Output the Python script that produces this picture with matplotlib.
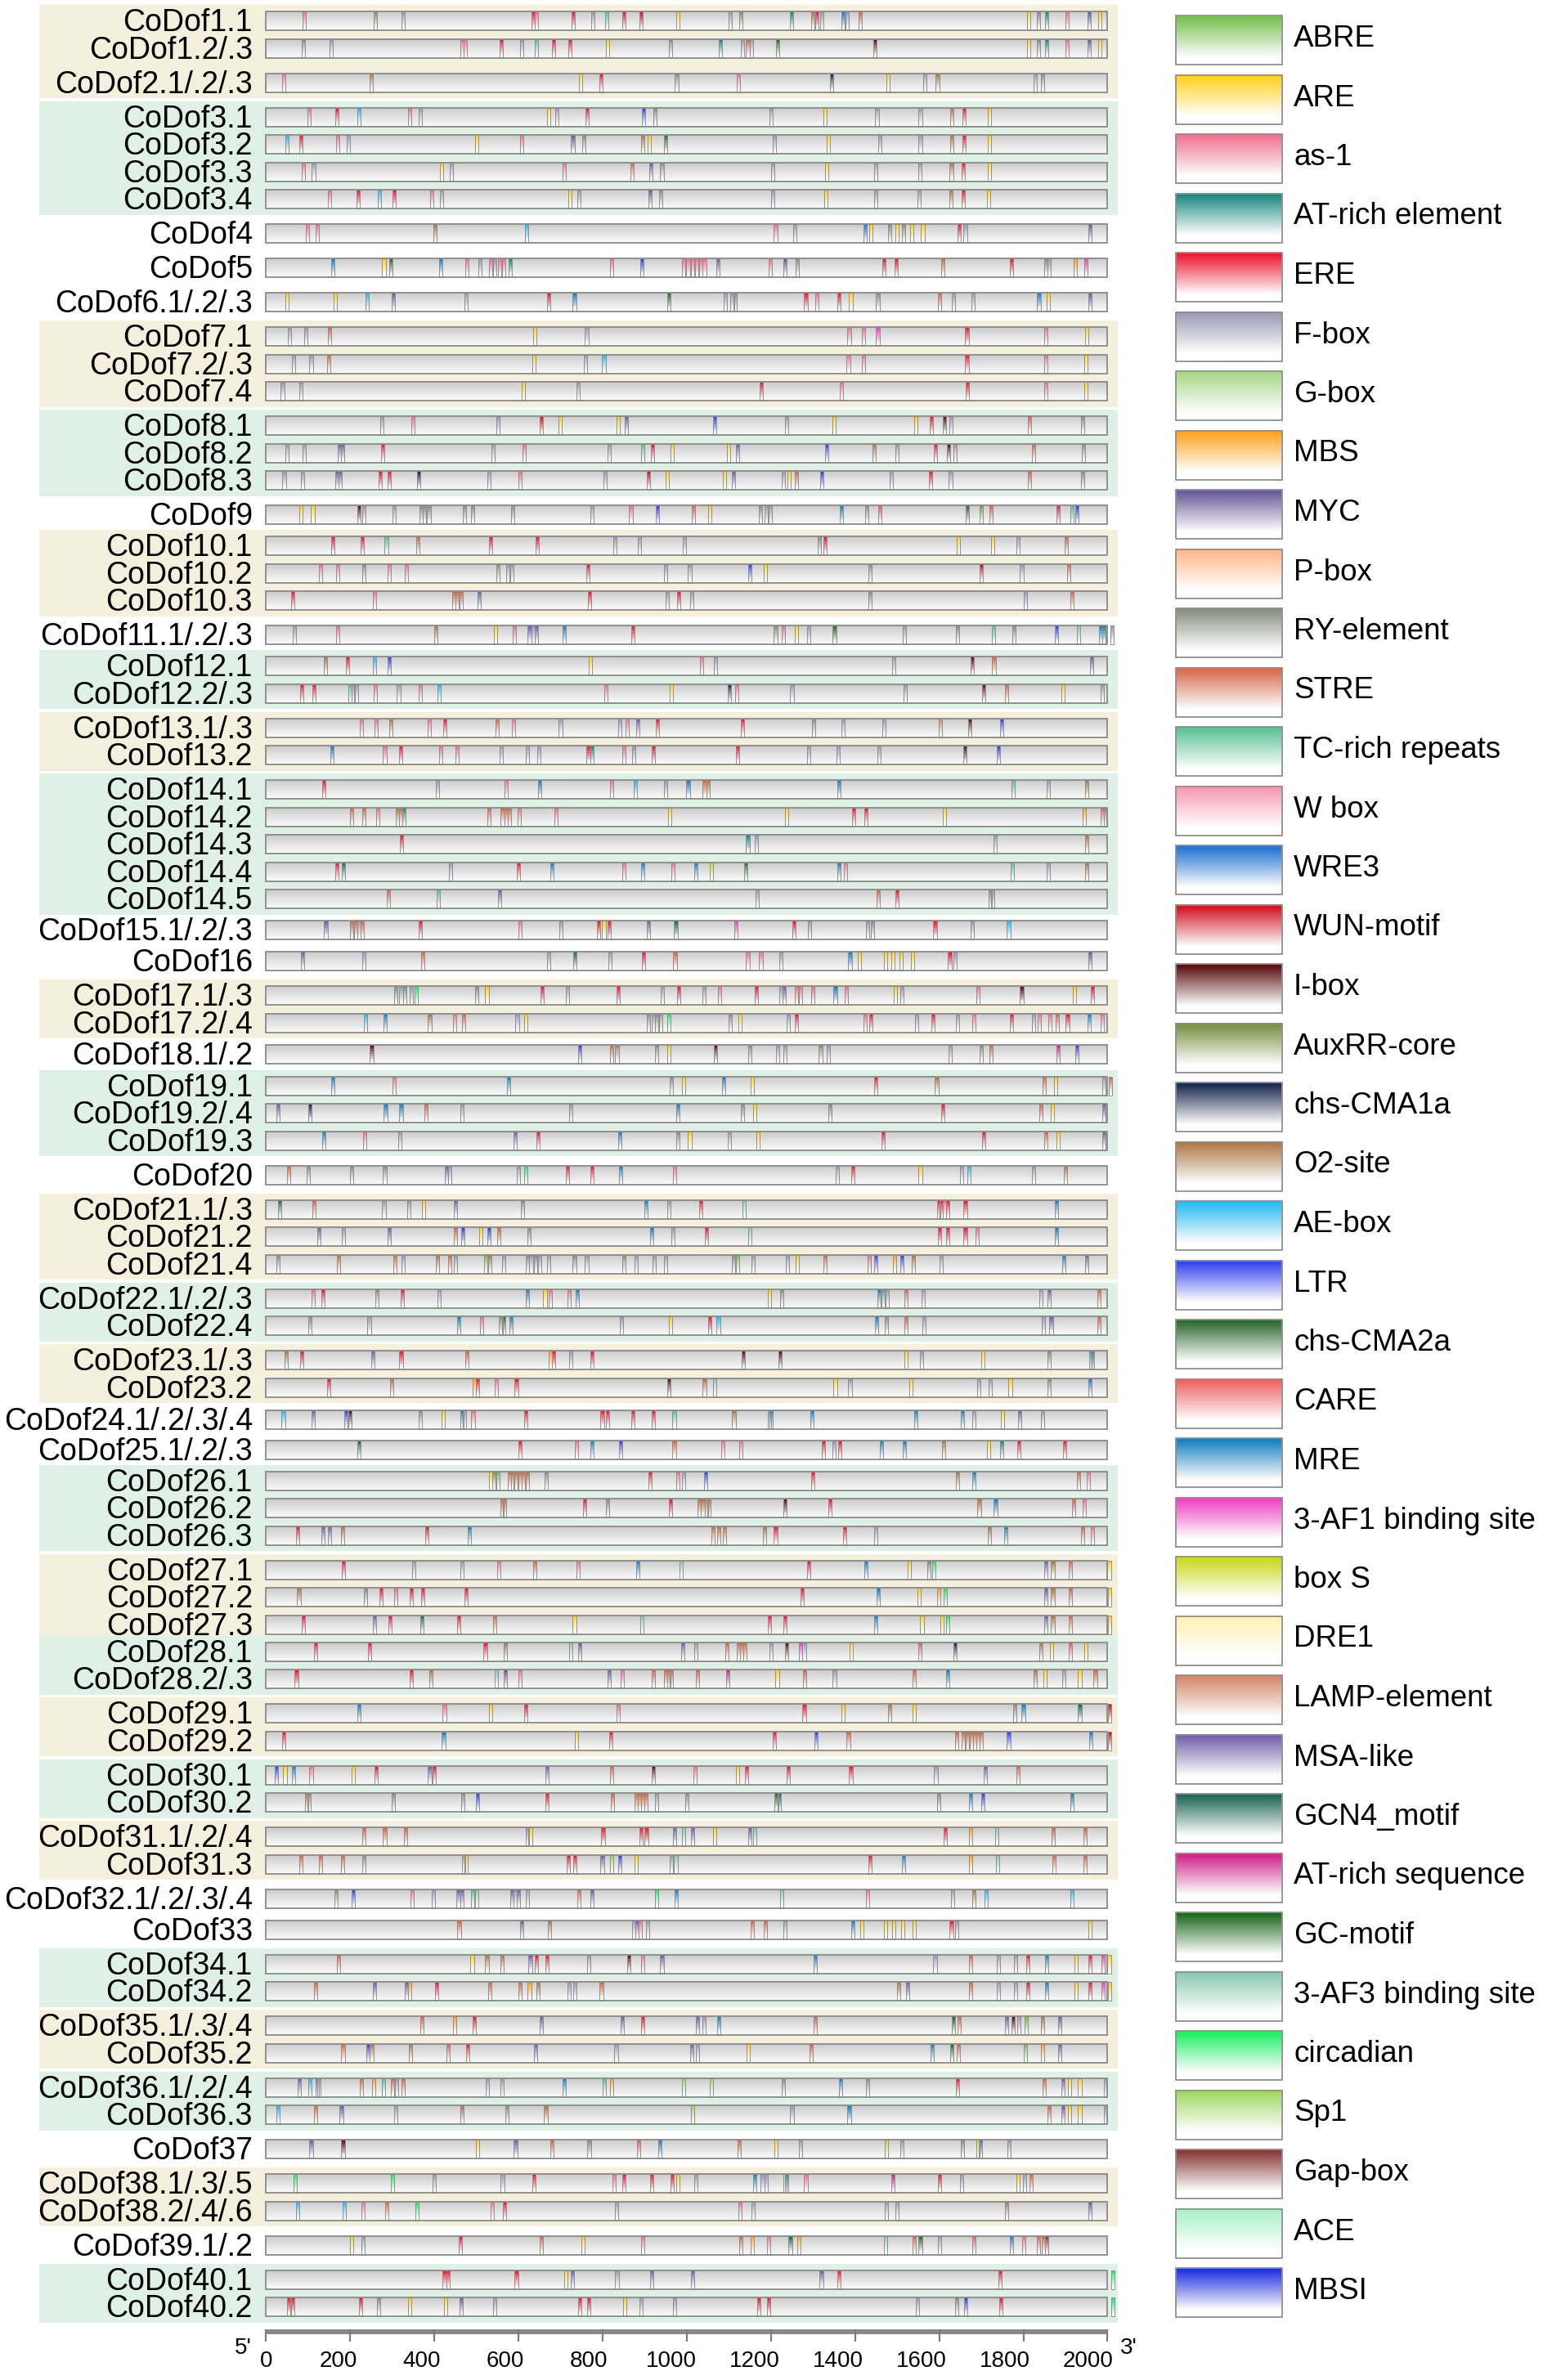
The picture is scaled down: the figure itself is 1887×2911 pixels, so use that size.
import numpy as np
import matplotlib
matplotlib.use("Agg")
import matplotlib.pyplot as plt
from matplotlib.collections import PolyCollection
from matplotlib.patches import Rectangle
from matplotlib.colors import to_rgb

plt.rcParams['font.family'] = ['Liberation Sans', 'DejaVu Sans']

# legend of cis-acting elements
element_names = ["ABRE", "ARE", "as-1", "AT-rich element", "ERE", "F-box", "G-box", "MBS", "MYC",
                 "P-box", "RY-element", "STRE", "TC-rich repeats", "W box", "WRE3", "WUN-motif",
                 "I-box", "AuxRR-core", "chs-CMA1a", "O2-site", "AE-box", "LTR", "chs-CMA2a", "CARE",
                 "MRE", "3-AF1 binding site", "box S", "DRE1", "LAMP-element", "MSA-like",
                 "GCN4_motif", "AT-rich sequence", "GC-motif", "3-AF3 binding site", "circadian",
                 "Sp1", "Gap-box", "ACE", "MBSI"]
element_codes = ["AB", "AR", "AS", "AT", "ER", "FB", "GB", "MB", "MY", "PB", "RY", "ST", "TC", "WB",
                 "WR", "WU", "IB", "AX", "C1", "O2", "AE", "LT", "C2", "CA", "MR", "A1", "BS", "DR",
                 "LA", "MS", "GC", "AQ", "GM", "A3", "CI", "SP", "GP", "AC", "MI"]
element_colors = ["#79c152", "#ffd21f", "#f07592", "#1b8a80", "#f01a33", "#9d9bb6", "#a9d98a",
                  "#ffa41f", "#6b5b9c", "#ffb98a", "#8b9182", "#d9694a", "#5ec395", "#f79ab2",
                  "#2374d4", "#d2121f", "#5e1212", "#7a9142", "#1c2a52", "#b07a4a", "#2bbcf2",
                  "#3344f0", "#2f6b30", "#f06262", "#1a82c2", "#f044c2", "#cad91f", "#fff2b5",
                  "#d38b6b", "#7462aa", "#22695a", "#d2238b", "#1f6a20", "#8acbb2", "#22f066",
                  "#a2d962", "#8a3a3a", "#aaf2ca", "#2233e2"]

gene_labels = ["CoDof1.1", "CoDof1.2/.3", "CoDof2.1/.2/.3", "CoDof3.1", "CoDof3.2", "CoDof3.3",
               "CoDof3.4", "CoDof4", "CoDof5", "CoDof6.1/.2/.3", "CoDof7.1", "CoDof7.2/.3",
               "CoDof7.4", "CoDof8.1", "CoDof8.2", "CoDof8.3", "CoDof9", "CoDof10.1", "CoDof10.2",
               "CoDof10.3", "CoDof11.1/.2/.3", "CoDof12.1", "CoDof12.2/.3", "CoDof13.1/.3",
               "CoDof13.2", "CoDof14.1", "CoDof14.2", "CoDof14.3", "CoDof14.4", "CoDof14.5",
               "CoDof15.1/.2/.3", "CoDof16", "CoDof17.1/.3", "CoDof17.2/.4", "CoDof18.1/.2",
               "CoDof19.1", "CoDof19.2/.4", "CoDof19.3", "CoDof20", "CoDof21.1/.3", "CoDof21.2",
               "CoDof21.4", "CoDof22.1/.2/.3", "CoDof22.4", "CoDof23.1/.3", "CoDof23.2",
               "CoDof24.1/.2/.3/.4", "CoDof25.1/.2/.3", "CoDof26.1", "CoDof26.2", "CoDof26.3",
               "CoDof27.1", "CoDof27.2", "CoDof27.3", "CoDof28.1", "CoDof28.2/.3", "CoDof29.1",
               "CoDof29.2", "CoDof30.1", "CoDof30.2", "CoDof31.1/.2/.4", "CoDof31.3",
               "CoDof32.1/.2/.3/.4", "CoDof33", "CoDof34.1", "CoDof34.2", "CoDof35.1/.3/.4",
               "CoDof35.2", "CoDof36.1/.2/.4", "CoDof36.3", "CoDof37", "CoDof38.1/.3/.5",
               "CoDof38.2/.4/.6", "CoDof39.1/.2", "CoDof40.1", "CoDof40.2"]

beige_genes = [1, 2, 7, 10, 13, 17, 21, 23, 27, 29, 31, 35, 38]
green_genes = [3, 8, 12, 14, 19, 22, 26, 28, 30, 34, 36, 40]

# element positions (bp from 5' end) and element type for each promoter row
motif_pos = [
    [91, 259, 326, 634, 643, 730, 776, 809, 851, 892, 978, 1103, 1129, 1249, 1299, 1309, 1321, 1371, 1382, 1412, 1813, 1836, 1855, 1904, 1956, 1981],
    [88, 155, 466, 474, 559, 608, 642, 684, 722, 812, 961, 1080, 1132, 1145, 1153, 1216, 1448, 1813, 1836, 1855, 1904, 1956, 1981],
    [42, 250, 747, 796, 976, 1122, 1345, 1478, 1565, 1596, 1829, 1845],
    [103, 168, 220, 342, 367, 671, 692, 763, 897, 925, 1201, 1329, 1452, 1555, 1630, 1659, 1719],
    [49, 82, 171, 195, 500, 607, 729, 755, 896, 911, 950, 1208, 1337, 1459, 1555, 1630, 1659, 1720],
    [88, 113, 417, 440, 708, 870, 915, 941, 1205, 1332, 1450, 1554, 1629, 1658, 1719],
    [150, 218, 270, 304, 393, 417, 722, 744, 912, 938, 1205, 1330, 1449, 1553, 1628, 1657, 1717],
    [99, 121, 401, 620, 1211, 1257, 1424, 1437, 1483, 1500, 1516, 1534, 1561, 1648, 1662, 1959],
    [159, 280, 297, 416, 478, 509, 533, 543, 555, 565, 580, 821, 894, 992, 1003, 1013, 1024, 1034, 1042, 1074, 1198, 1233, 1263, 1469, 1498, 1608, 1771, 1854, 1862, 1924, 1948],
    [50, 164, 240, 303, 475, 672, 733, 957, 1092, 1108, 1115, 1283, 1309, 1362, 1390, 1454, 1601, 1633, 1680, 1837, 1859, 1959],
    [55, 95, 151, 638, 762, 1386, 1420, 1454, 1666, 1854, 1950],
    [66, 107, 149, 636, 759, 803, 1384, 1420, 1666, 1854, 1949],
    [39, 82, 612, 742, 1177, 1367, 1667, 1853, 1949],
    [275, 349, 551, 654, 699, 837, 857, 1067, 1237, 1350, 1544, 1582, 1613, 1628, 1815, 1941],
    [50, 91, 174, 182, 278, 540, 613, 816, 896, 919, 965, 1100, 1120, 1333, 1445, 1499, 1591, 1623, 1638, 1824, 1942],
    [43, 86, 168, 176, 271, 293, 362, 529, 604, 805, 908, 954, 1090, 1111, 1229, 1244, 1261, 1321, 1486, 1579, 1627, 1815, 1941],
    [82, 111, 220, 233, 305, 368, 376, 387, 471, 491, 586, 774, 867, 930, 1015, 1054, 1175, 1188, 1198, 1367, 1427, 1459, 1667, 1700, 1724, 1882, 1915, 1927],
    [158, 228, 286, 361, 533, 645, 830, 888, 994, 1315, 1328, 1645, 1727, 1788, 1902],
    [130, 171, 233, 293, 334, 551, 575, 584, 765, 949, 1007, 1150, 1187, 1436, 1700, 1796, 1908],
    [63, 258, 446, 454, 463, 507, 769, 953, 980, 1011, 1436, 1805, 1916],
    [68, 171, 404, 545, 590, 626, 634, 642, 709, 872, 1211, 1230, 1261, 1290, 1351, 1517, 1644, 1729, 1777, 1879, 1932, 1983, 1991, 2011],
    [141, 193, 257, 292, 770, 1036, 1069, 1492, 1678, 1730, 1962],
    [84, 114, 199, 208, 214, 259, 315, 366, 412, 808, 963, 1101, 1119, 1250, 1520, 1705, 1761, 1894, 1987],
    [226, 261, 296, 388, 425, 550, 588, 700, 840, 858, 884, 930, 1133, 1301, 1371, 1469, 1603, 1673, 1749],
    [157, 282, 320, 415, 454, 559, 621, 649, 766, 775, 850, 874, 920, 1121, 1290, 1359, 1457, 1661, 1740],
    [137, 408, 570, 650, 821, 878, 950, 1003, 1042, 1050, 1362, 1775, 1859, 1950],
    [204, 233, 265, 312, 320, 328, 529, 562, 570, 578, 601, 690, 959, 1237, 1397, 1426, 1612, 1944, 1987, 1995],
    [322, 1145, 1165, 1733, 1950],
    [168, 184, 438, 600, 680, 851, 895, 967, 1021, 1059, 1140, 1362, 1378, 1774, 1859, 1950],
    [290, 409, 555, 1167, 1455, 1500, 1721, 1727],
    [142, 203, 213, 221, 229, 367, 603, 701, 791, 803, 816, 908, 974, 1117, 1255, 1292, 1429, 1442, 1590, 1678, 1765],
    [86, 233, 372, 672, 734, 818, 897, 972, 1145, 1176, 1224, 1388, 1411, 1472, 1490, 1509, 1537, 1625, 1638, 1959],
    [309, 321, 330, 345, 357, 501, 525, 657, 716, 837, 942, 980, 1041, 1078, 1166, 1224, 1232, 1261, 1271, 1300, 1353, 1380, 1495, 1512, 1692, 1796, 1921, 1965],
    [237, 283, 389, 449, 470, 597, 618, 909, 920, 929, 938, 958, 1103, 1126, 1242, 1261, 1424, 1438, 1546, 1586, 1644, 1682, 1771, 1825, 1838, 1863, 1881, 1905, 1957, 1987],
    [251, 745, 821, 834, 929, 958, 1069, 1149, 1216, 1234, 1318, 1337, 1626, 1700, 1724, 1882, 1927],
    [159, 304, 576, 963, 992, 1088, 1155, 1450, 1594, 1849, 1876, 1991, 2007],
    [28, 104, 284, 321, 380, 465, 725, 978, 1133, 1161, 1341, 1609, 1841, 1869, 1991],
    [138, 234, 318, 592, 646, 840, 978, 1007, 1101, 1170, 1466, 1705, 1854, 1882, 1991],
    [54, 100, 204, 282, 429, 437, 599, 617, 717, 775, 842, 971, 1357, 1395, 1555, 1654, 1670, 1824, 1900],
    [32, 114, 280, 340, 374, 450, 609, 903, 957, 1033, 1136, 1598, 1605, 1613, 1621, 1662, 1878],
    [125, 184, 293, 450, 468, 511, 529, 554, 625, 916, 967, 1046, 1150, 1600, 1621, 1662, 1691, 1878],
    [29, 172, 307, 326, 408, 437, 450, 522, 532, 565, 621, 630, 640, 650, 672, 733, 762, 851, 880, 922, 950, 1111, 1121, 1158, 1240, 1262, 1329, 1434, 1450, 1494, 1512, 1538, 1605, 1896, 1950],
    [112, 136, 264, 324, 411, 622, 663, 675, 721, 740, 1196, 1226, 1457, 1467, 1476, 1521, 1562, 1842, 1862, 1980],
    [105, 245, 458, 512, 558, 565, 582, 844, 962, 1055, 1075, 1451, 1474, 1521, 1563, 1848, 1866, 1980],
    [47, 84, 254, 321, 478, 675, 683, 725, 775, 1134, 1221, 1521, 1558, 1703, 1861, 1961, 1965],
    [149, 299, 495, 503, 547, 595, 957, 1042, 1067, 1353, 1388, 1533, 1694, 1721, 1769, 1861, 1959],
    [41, 112, 189, 200, 366, 421, 466, 471, 492, 618, 799, 811, 872, 920, 970, 1112, 1196, 1201, 1297, 1545, 1655, 1682, 1750, 1791, 1846],
    [220, 603, 737, 775, 842, 970, 1086, 1129, 1324, 1350, 1363, 1463, 1517, 1611, 1717, 1749, 1790, 1898],
    [534, 542, 551, 578, 586, 593, 604, 612, 621, 666, 912, 979, 992, 1045, 1299, 1644, 1683, 1932, 1954],
    [561, 566, 758, 812, 961, 1029, 1038, 1046, 1053, 1233, 1341, 1695, 1734, 1919, 1944],
    [75, 136, 150, 182, 382, 483, 1063, 1076, 1090, 1184, 1211, 1375, 1450, 1720, 1759, 1941, 1965],
    [184, 351, 466, 554, 638, 741, 883, 987, 1290, 1425, 1529, 1575, 1588, 1854, 1870, 1912, 2004],
    [78, 236, 274, 309, 345, 372, 476, 1275, 1455, 1553, 1599, 1615, 1854, 1870, 1912, 2005],
    [88, 257, 295, 370, 458, 543, 733, 893, 1196, 1233, 1449, 1559, 1607, 1621, 1854, 1870, 1912, 2005],
    [118, 246, 521, 568, 724, 745, 991, 1022, 1095, 1122, 1130, 1138, 1201, 1238, 1271, 1279, 1391, 1554, 1638, 1841, 1867, 1911, 1949],
    [72, 345, 392, 547, 568, 603, 815, 846, 920, 949, 957, 963, 1026, 1097, 1215, 1280, 1351, 1541, 1621, 1828, 1851, 1896, 1934, 1971],
    [221, 424, 534, 618, 837, 1279, 1371, 1482, 1541, 1779, 1800, 1934, 2005],
    [42, 422, 737, 820, 1208, 1308, 1384, 1641, 1658, 1667, 1676, 1684, 1692, 1700, 1765, 1961, 2005],
    [25, 45, 66, 107, 208, 262, 389, 399, 667, 821, 921, 1020, 1121, 1142, 1241, 1390, 1592, 1709, 1788],
    [97, 103, 303, 468, 503, 668, 824, 879, 887, 895, 903, 928, 1001, 1213, 1219, 1599, 1675, 1704, 1915],
    [233, 282, 332, 621, 628, 801, 891, 904, 971, 992, 1013, 1066, 1149, 1161, 1615, 1674, 1737, 1871, 1946],
    [82, 130, 182, 232, 470, 476, 718, 734, 799, 821, 841, 879, 963, 974, 1436, 1515, 1675, 1738, 1873, 1946],
    [167, 208, 347, 397, 457, 466, 491, 500, 584, 592, 600, 621, 744, 775, 929, 975, 1226, 1429, 1632, 1682, 1711, 1916],
    [459, 608, 674, 874, 882, 890, 907, 1155, 1187, 1234, 1394, 1416, 1473, 1492, 1513, 1541, 1629, 1642, 1959],
    [172, 490, 525, 561, 628, 642, 668, 767, 863, 895, 941, 1305, 1590, 1675, 1740, 1782, 1811, 1855, 1925, 1959, 1990, 2004],
    [118, 258, 334, 342, 405, 532, 603, 626, 647, 721, 734, 797, 1503, 1525, 1675, 1740, 1782, 1811, 1855, 1925, 1958, 1990, 2005],
    [370, 449, 495, 655, 846, 895, 1025, 1041, 1076, 1305, 1633, 1647, 1761, 1776, 1790, 1807, 1846, 1887],
    [183, 243, 251, 343, 433, 480, 640, 832, 1011, 1025, 1146, 1295, 1583, 1630, 1645, 1805, 1846, 1887],
    [79, 105, 121, 126, 226, 255, 279, 301, 311, 325, 526, 561, 708, 804, 821, 992, 1059, 1229, 1366, 1429, 1644, 1850, 1895, 1909, 1934, 1995],
    [28, 118, 179, 308, 466, 572, 665, 1013, 1250, 1386, 1861, 1895, 1909, 1934, 1995],
    [107, 183, 503, 593, 679, 768, 886, 936, 1124, 1212, 1270, 1475, 1511, 1655, 1692, 1698, 1766],
    [70, 301, 400, 562, 637, 828, 850, 917, 965, 978, 1022, 1161, 1180, 1188, 1233, 1238, 1283, 1490, 1600, 1654, 1788, 1803, 1819],
    [75, 186, 230, 287, 358, 537, 567, 833, 1126, 1158, 1474, 1500, 1761, 1959],
    [203, 230, 462, 655, 754, 896, 1129, 1155, 1194, 1246, 1266, 1472, 1540, 1555, 1601, 1682, 1772, 1801, 1836, 1847, 1855],
    [424, 433, 595, 712, 728, 834, 916, 1013, 1320, 1361, 1745, 2013],
    [54, 63, 224, 267, 342, 426, 463, 543, 745, 767, 853, 891, 971, 1171, 1195, 1549, 1642, 1663, 1747, 2013],
]
motif_kind = [
    "AS RY FB ER AS ER FB TC ER WU AR FB RY AT O2 ER FB WR FB ST AR RY AT AS MY AR",
    "RY FB AS AS ER FB TC ER ER AR RY AT FB ST FB C2 IB AR RY AT AS MY AR",
    "AS O2 AR ER RY AS C1 AR FB O2 FB RY",
    "AS ER AE AS FB AR FB ER LT RY FB AR FB FB O2 ER AR",
    "AE ER AS FB AR AS MY RY O2 AR C2 FB AR FB FB O2 ER AR",
    "AS FB AR FB AS ST MY RY FB AR FB FB O2 ER AR",
    "AS ER AE ER AS FB AR FB MY RY FB AR FB FB O2 ER AR",
    "AS AS O2 AE AS FB WR AR RY AR RY AR AR ER FB MY",
    "MR AR C2 MR AS FB AS FB AS AS AT AS LT AS AS AS AS AS AS MS AS MY RY ER ER ST ER RY FB MB A1",
    "AR AR AE MY FB ER MR C2 FB FB RY ER AS ER AR RY ST FB FB MR AR MY",
    "FB FB ST AR FB AS AS A1 ER AS AR",
    "FB FB ST AR FB AE AS AS ER AS AR",
    "FB FB AR FB ER AS ER AS AR",
    "FB AS FB WU AR AR MS LT FB AR AR ER IB FB ST RY",
    "FB FB MS MS ER FB AS FB TC ER AR AR MS LT O2 FB ER IB FB ST RY",
    "FB FB MS MS ER ER C1 FB AS FB WU AR AR MS FB AR ST LT FB ER FB ST RY",
    "AR AR IB FB FB RY RY RY RY RY RY FB AS LT ST AR RY FB FB MR RY ST C2 RY ST AQ TC LT",
    "ER ER TC O2 ER ER FB FB FB RY ER AR AR FB ST",
    "AS AS RY AS AS RY FB FB ER FB FB LT AR RY WU FB ST",
    "ER AS ST O2 ST MS ER FB ER FB RY FB ST",
    "FB AS O2 AR AS MS FB MS MR ER RY AS AR FB C2 FB RY TC RY LT A3 WR AT FB",
    "O2 ER AE LT AR AS FB FB IB ST MS",
    "ER ER TC FB FB AS FB AS AE AS AR C1 AS FB FB IB ST AR FB",
    "AS AS O2 AS ER ST AS FB FB AS MS ER ER RY FB FB LA IB LT",
    "MR AS ER AS AS FB FB FB ER AT AS FB ER ER FB FB FB IB LT",
    "ER FB AS MR AS AE FB MR ST O2 MR TC FB O2",
    "ST ST AS O2 ST AT ST ST O2 ST AS AS AR AR ER ER AR MB ST RY",
    "ER AT FB FB O2",
    "ER GC FB ER MR AS MR AS MR BS C2 MR AS TC FB O2",
    "ST TC MS FB ST ER RY FB",
    "MS O2 ST FB ST ER AS FB ER AR ER MS GC A1 ER FB FB RY ER FB AE",
    "MS FB ST FB GC FB ER ST AS AS FB MR AR AR AR AR AR ER FB MY",
    "RY FB RY FB CI RY AR ER FB ER FB ER FB AS ER FB MS AS AS AS MR AS AR FB AS IB AR ER",
    "AE MR O2 AS ST FB AR RY FB RY FB CI RY AR FB ER AS ER FB ER FB AS ER FB AS AS ST ER MR AS",
    "IB LT ST RY RY AR IB RY FB FB RY FB FB RY ST AQ LT",
    "MR AS MR RY AR MR AR ER O2 ST AR FB ST",
    "MS C1 MR MR ST FB FB MR RY AR RY ER ST AR MS",
    "MR AS FB MS ER MR RY AR FB AR ER ER ST AR MS",
    "ST RY RY RY MS FB FB CI ER ER MR AS FB ER AR FB AE FB O2",
    "GC ST FB FB AR MS RY MR FB ER A3 ER ER AS ER ER MR",
    "MS FB MS ST LT AR LT ST RY MR FB ER A3 ER ER ER AS MR",
    "RY ST ST FB O2 ST FB AB O2 FB RY FB RY FB FB RY FB RY FB FB FB RY AB FB FB AR ST AS LT MB LT O2 FB MR MS",
    "AS ER RY ER FB MR AR AS AS MR AR RY MR RY FB ST FB FB MS ST",
    "RY FB MR AS RY C2 MR FB AR ER AE MR RY ST FB FB MS ST",
    "O2 ER MS ER ST MB ER FB ER IB IB AR FB AR RY RY WR",
    "ER ST MB ER AS ER IB O2 A3 AR FB AR FB FB AR RY WR",
    "AE MS LT IB RY AR MR FB AS ER ER ER ER ER TC O2 FB MR MR MR MR FB AR MS FB",
    "C2 ER AS MR LT ST AS AS ER FB ER MR MR O2 AR AT ER ER",
    "AR RY AB ST ST O2 ST ST O2 RY ER AS FB LT ER O2 MR ST AS",
    "ST O2 ER RY ER ST O2 RY ST IB ER O2 MR ST AS",
    "ER MS MS O2 ER MR ST O2 ST O2 ER ER FB O2 MR ST AS",
    "ER FB FB AS ST AS MR A3 ER MR AR RY CI MS O2 ST AR",
    "O2 RY ER AS ER ER ER ER MR AR MB CI MS O2 ST AR",
    "ER MS ER GC ER ST AR A3 ER ER MR AR AR CI MS O2 ST AR",
    "ER ER ER O2 A3 MY MS FB ST ST O2 ST FB IB A1 FB AR ST C1 O2 AR ST AR",
    "ER ER O2 A3 MY AS MS AS ST ST O2 ST ST AQ AR ST FB ST MR O2 AR FB AR ST",
    "MR AS AR ER AS ER AR O2 AR RY MR GC WU",
    "ER MR AR ER ER LT ST ST ST O2 ST O2 ST ST LT MR WU",
    "LT AR MR AS AR ER MS ER MS ST IB AS AR ER ER ER FB MS ST",
    "ST RY RY RY LT ER ST ST O2 ST ST FB RY C2 GC RY MR LT MR",
    "ST ST ST FB AR ER ER ER MS A3 MS AR MS A3 ER MB A3 ST ST",
    "ST ST ST RY FB AR ER ER MS SP LT AR FB A3 ER MR MB A3 ST ST",
    "RY LT AS FB MS MS TC A3 MS FB MS FB ST MS CI MR A3 AS FB O2 AE AE",
    "ST MS O2 FB MS AS FB ST ST FB MR AR AR AR AR AR ER FB AR",
    "ST AR O2 O2 MS ER ER FB IB AS MS MR FB ST FB FB ER MR AR ER A1 AR",
    "ST MS MS MB ER ST ST MB O2 FB FB ST O2 MS ST FB FB ER MR AR ER A1 AR",
    "ST MB ER MS MS ER MS FB MR ST GM ST MS IB FB AB O2 MS",
    "ST LT O2 O2 ST ER MS FB MS FB AR ST MR GM ST AB MB MS",
    "MS AE MS FB ST MB TC ST FB ST FB FB MR TC MB SP SP RY MR RY ER ST MS AR AR FB",
    "AE ST MS FB O2 RY O2 SP FB MR ST MS AR AR FB",
    "MS IB AR MS ST RY ST MR ST AR FB BS FB RY AR MR FB",
    "CI CI FB FB ER AS ER ER ER AR FB MR FB FB AR MR AS AQ ER FB AR FB ST",
    "AE AE AS ST CI AS ER FB AS FB FB FB O2 MY",
    "AR FB ER ST AR AS ST MB AS GC MB A3 ST C2 FB ST MR AS ST ST GP",
    "ER ER ER AR MS FB MS MS MS ER ER CI",
    "ER ER ER RY AR AR MS FB ER ER AR FB FB ER ER FB RY LT ER CI",
]

# ---- layout (figure pixels) ----
W_PX, H_PX = 1887, 2911
X0_PX = 325.4              # pixel of 0 bp
PX_PER_BP = 1029.0 / 2000  # horizontal scale
BAR_H = 23
SEQ_LEN = 2000
MOTIF_W = 8
GAP_SAME = 33.5
GAP_GENE = 42
GAP_NARROW = {10: 38, 12: 38, 15: 38, 16: 38, 18: 38, 19: 39, 24: 39, 25: 37, 26: 38, 28: 33, 33: 38}
BEIGE, GREEN = '#f4f0dd', '#dff1e6'


def gene_number(label):
    return int(label[5:].split('.')[0])


def fade(col, n=64, start=0.04, end=0.86):
    t = np.linspace(0, 1, n)
    w = np.clip((t - start) / (end - start), 0, 1)
    rgb = np.array(to_rgb(col))
    return rgb[None, :] * (1 - w[:, None]) + w[:, None]


genes = [gene_number(l) for l in gene_labels]
row_y = [25.7]
for prev, cur in zip(genes[:-1], genes[1:]):
    step = GAP_SAME if prev == cur else GAP_NARROW.get(cur, GAP_GENE)
    row_y.append(row_y[-1] + step)

fig = plt.figure(figsize=(W_PX / 100, H_PX / 100), dpi=100)
ax = fig.add_axes([0, 0, 1, 1])
ax.axis('off')

# shaded groups (neighbouring genes with the same shade share one box)
shade = {g: BEIGE for g in beige_genes}
shade.update({g: GREEN for g in green_genes})
runs = []
for y, g in zip(row_y, genes):
    c = shade.get(g)
    if c is None:
        continue
    if runs and runs[-1][0] == c and runs[-1][3] in (g, g - 1):
        runs[-1][2] = y
        runs[-1][3] = g
    else:
        runs.append([c, y, y, g])
for c, y_first, y_last, _ in runs:
    ax.add_patch(Rectangle((-539, y_first - 19.5), 2024 + 539, y_last - y_first + 38.5,
                           fc=c, ec='none', zorder=0))

# promoter bars
bar_grad = np.repeat(np.linspace(0.80, 0.985, 32)[:, None], 3, axis=1)[:, None, :]
for y, lab in zip(row_y, gene_labels):
    ax.imshow(bar_grad, extent=[0, SEQ_LEN, y + BAR_H / 2, y - BAR_H / 2], aspect='auto',
              interpolation='bilinear', zorder=2)
    ax.add_patch(Rectangle((0, y - BAR_H / 2), SEQ_LEN, BAR_H, fill=False, ec='#8a8a8a',
                           lw=1.3, zorder=5))
    ax.text(-32, y + 12.7, lab, fontsize=27, ha='right', va='baseline', zorder=6)

# cis-elements
n_sl = 8
slice_cols = {c: fade(col, n_sl, 0.0, 0.95) for c, col in zip(element_codes, element_colors)}
polys, fcols, outlines = [], [], []
for y, pos, kinds in zip(row_y, motif_pos, motif_kind):
    top = y - BAR_H / 2
    for x, k in zip(pos, kinds.split()):
        x0, x1 = x - MOTIF_W / 2, x + MOTIF_W / 2
        for s in range(n_sl):
            ya = top + BAR_H * s / n_sl
            yb = top + BAR_H * (s + 1) / n_sl
            polys.append([(x0, ya), (x1, ya), (x1, yb), (x0, yb)])
            fcols.append(slice_cols[k][s])
        outlines.append([(x0, top), (x1, top), (x1, top + BAR_H), (x0, top + BAR_H)])
ax.add_collection(PolyCollection(polys, facecolors=fcols, edgecolors='none',
                                 antialiaseds=False, zorder=3))
ax.add_collection(PolyCollection(outlines, facecolors='none', edgecolors='#8f8f8f',
                                 linewidths=0.7, zorder=4))

# scale
ticks = np.arange(0, SEQ_LEN + 1, 200)
ax.plot([0, SEQ_LEN], [2852, 2852], color='#8a8a8a', lw=4.3, solid_capstyle='butt', zorder=3)
ax.vlines(ticks, 2849, 2864, color='#7c7c7c', lw=1.6, zorder=3)
for t in ticks:
    lx = t if t == 0 else t * 0.9895 - 25.6
    ax.text(lx, 2895, str(t), fontsize=20, ha='center', va='baseline')
ax.text(-34, 2879, "5'", fontsize=20, ha='right', va='baseline')
ax.text(2030, 2879, "3'", fontsize=20, ha='left', va='baseline')

ax.set_xlim(-X0_PX / PX_PER_BP, (W_PX - X0_PX) / PX_PER_BP)
ax.set_ylim(H_PX, 0)

# legend
lax = fig.add_axes([0, 0, 1, 1])
lax.axis('off')
LEG_TOP, LEG_STEP, LEG_H = 19, 72.5, 60
LEG_X0, LEG_X1 = 1438, 1568
for i, (name, col) in enumerate(zip(element_names, element_colors)):
    top = LEG_TOP + i * LEG_STEP
    lax.imshow(fade(col)[:, None, :], extent=[LEG_X0, LEG_X1, top + LEG_H, top],
               aspect='auto', interpolation='bilinear')
    lax.add_patch(Rectangle((LEG_X0, top), LEG_X1 - LEG_X0, LEG_H, fill=False,
                            ec='#8f8f8f', lw=1.3))
    lax.text(1582, top + LEG_H / 2 + 8, name, fontsize=26.5, ha='left', va='baseline')
lax.set_xlim(0, W_PX)
lax.set_ylim(H_PX, 0)

fig.savefig("out.png", dpi=100)
